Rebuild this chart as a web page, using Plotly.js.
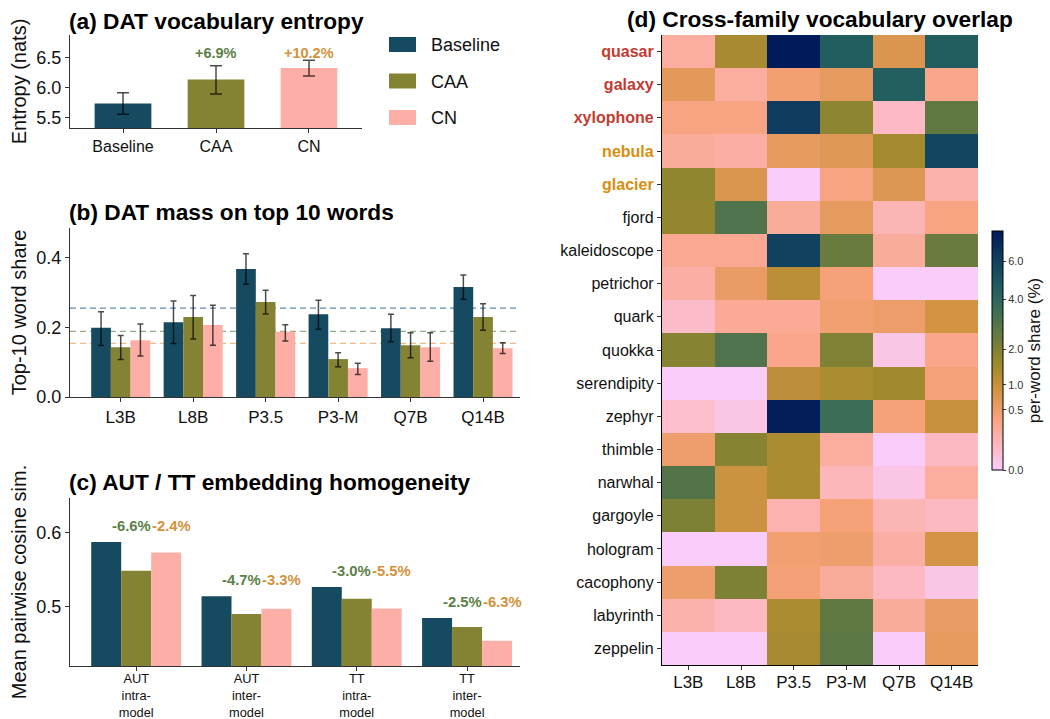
<!DOCTYPE html>
<html><head><meta charset="utf-8">
<script src="https://cdn.plot.ly/plotly-3.0.1.min.js"></script>
<style>html,body{margin:0;padding:0;background:#fff}#chart{width:1050px;height:719px}</style>
</head><body><div id="chart"></div>
<script>
// ---------- data ----------
const groups = ['Baseline', 'CAA', 'CN'];
const groupColors = ['#164A60', '#848233', '#FDAFA7'];
const deltaColors = ['#5b7f46', '#d4913b'];

// (a) DAT vocabulary entropy
const entropyMean = [5.74, 6.14, 6.33];
const entropyLow = [5.56, 5.90, 6.20];
const entropyHigh = [5.92, 6.37, 6.46];
const entropyDelta = ['', '+6.9%', '+10.2%'];

// (b) DAT mass on top 10 words
const models = ['L3B', 'L8B', 'P3.5', 'P3-M', 'Q7B', 'Q14B'];
const top10Baseline = [0.199, 0.215, 0.368, 0.238, 0.198, 0.316];
const top10BaselineLow = [0.148, 0.154, 0.324, 0.195, 0.159, 0.281];
const top10BaselineHigh = [0.245, 0.276, 0.412, 0.278, 0.238, 0.351];
const top10CAA = [0.143, 0.230, 0.273, 0.109, 0.149, 0.230];
const top10CAALow = [0.108, 0.167, 0.239, 0.087, 0.113, 0.192];
const top10CAAHigh = [0.177, 0.292, 0.307, 0.127, 0.185, 0.268];
const top10CN = [0.163, 0.207, 0.188, 0.083, 0.143, 0.140];
const top10CNLow = [0.118, 0.149, 0.161, 0.065, 0.103, 0.125];
const top10CNHigh = [0.210, 0.264, 0.208, 0.097, 0.185, 0.156];

// (c) AUT / TT embedding homogeneity
const homogCats = ['AUT<br>intra-<br>model', 'AUT<br>inter-<br>model', 'TT<br>intra-<br>model', 'TT<br>inter-<br>model'];
const homogBaseline = [0.5874, 0.5144, 0.5266, 0.4847];
const homogCAA = [0.5486, 0.4902, 0.5108, 0.4726];
const homogCN = [0.5733, 0.4974, 0.4976, 0.4542];
const homogDeltaCAA = ['-6.6%', '-4.7%', '-3.0%', '-2.5%'];
const homogDeltaCN = ['-2.4%', '-3.3%', '-5.5%', '-6.3%'];

// (d) Cross-family vocabulary overlap (per-word share, %)
const words = ['quasar', 'galaxy', 'xylophone', 'nebula', 'glacier', 'fjord', 'kaleidoscope', 'petrichor', 'quark', 'quokka',
  'serendipity', 'zephyr', 'thimble', 'narwhal', 'gargoyle', 'hologram', 'cacophony', 'labyrinth', 'zeppelin'];
const wordColors = ['#c43b32', '#c43b32', '#c43b32', '#d98e0f', '#d98e0f'];
const shareL3B = [0.2, 0.65, 0.35, 0.22, 1.75, 1.7, 0.27, 0.18, 0.06, 1.9, 0.0, 0.05, 0.5, 2.9, 2.05, 0.0, 0.5, 0.15, 0.0];
const shareL8B = [1.4, 0.2, 0.35, 0.18, 0.75, 3.0, 0.27, 0.55, 0.25, 3.0, 0.0, 0.01, 1.9, 0.95, 0.95, 0.0, 2.05, 0.08, 0.0];
const shareP35 = [7.8, 0.45, 6.3, 0.6, 0.0, 0.22, 6.0, 1.15, 0.25, 0.3, 1.1, 7.6, 1.35, 1.35, 0.14, 0.45, 0.42, 1.35, 1.4];
const shareP3M = [4.5, 0.6, 1.8, 0.7, 0.35, 0.6, 2.4, 0.4, 0.45, 2.0, 1.35, 3.5, 0.2, 0.1, 0.4, 0.5, 0.22, 2.6, 2.7];
const shareQ7B = [0.75, 4.4, 0.07, 1.45, 0.72, 0.12, 0.22, 0.0, 0.52, 0.01, 1.5, 0.4, 0.0, 0.01, 0.12, 0.18, 0.08, 0.22, 0.0];
const shareQ14B = [4.5, 0.3, 2.6, 5.8, 0.15, 0.35, 2.4, 0.0, 0.87, 0.3, 0.4, 1.0, 0.08, 0.2, 0.08, 0.85, 0.01, 0.55, 0.6];
const shareMax = 7.85;
const cbTicks = [0.0, 0.5, 1.0, 2.0, 4.0, 6.0];

// ---------- helpers ----------
const minus = (m, lo) => m.map((v, i) => v - lo[i]);
const plus = (m, hi) => hi.map((v, i) => v - m[i]);
const mean = a => a.reduce((s, v) => s + v, 0) / a.length;
const FONT = 'Liberation Sans, Arial, sans-serif';
const errStyle = (m, lo, hi, w) => ({type: 'data', symmetric: false, array: plus(m, hi), arrayminus: minus(m, lo),
  color: 'rgba(0,0,0,0.7)', thickness: 1.5, width: w});

const traces = [];
// (a)
traces.push({type: 'bar', x: groups, y: entropyMean, xaxis: 'x', yaxis: 'y', width: 0.61,
  marker: {color: groupColors}, error_y: errStyle(entropyMean, entropyLow, entropyHigh, 6), showlegend: false, hoverinfo: 'x+y'});
// (b)
const bSeries = [[top10Baseline, top10BaselineLow, top10BaselineHigh], [top10CAA, top10CAALow, top10CAAHigh], [top10CN, top10CNLow, top10CNHigh]];
bSeries.forEach((s, k) => traces.push({type: 'bar', name: groups[k], x: models, y: s[0], xaxis: 'x2', yaxis: 'y2',
  marker: {color: groupColors[k]}, error_y: errStyle(s[0], s[1], s[2], 3), showlegend: false}));
// (c)
[homogBaseline, homogCAA, homogCN].forEach((s, k) => traces.push({type: 'bar', name: groups[k], x: homogCats, y: s,
  xaxis: 'x3', yaxis: 'y3', marker: {color: groupColors[k]}, showlegend: false}));
// (d)
const cols = [shareL3B, shareL8B, shareP35, shareP3M, shareQ7B, shareQ14B];
const zSqrt = words.map((w, r) => cols.map(c => Math.sqrt(c[r])));
const zRaw = words.map((w, r) => cols.map(c => c[r]));
const batlowR = ['#FACCFA', '#FDB7BC', '#F8A17B', '#D29343', '#9D892B', '#687B3E', '#3C6D56', '#1C5A62', '#0F3D5E', '#011959'];
traces.push({type: 'heatmap', x: models, y: words, z: zSqrt, customdata: zRaw, xaxis: 'x4', yaxis: 'y4',
  zmin: 0, zmax: Math.sqrt(shareMax),
  colorscale: batlowR.map((c, i) => [i / (batlowR.length - 1), c]),
  hovertemplate: '%{y} / %{x}: %{customdata:.2f}%<extra></extra>',
  colorbar: {x: 992 / 1050, xanchor: 'left', y: 1 - 231 / 719, yanchor: 'top', len: 239, lenmode: 'pixels',
    thickness: 11, xpad: 0, ypad: 0, outlinewidth: 1, outlinecolor: '#000',
    tickvals: cbTicks.map(Math.sqrt), ticktext: cbTicks.map(v => v.toFixed(1)), ticks: 'outside', ticklen: 3,
    tickcolor: '#333', tickfont: {size: 11, color: '#333', family: FONT},
    title: {text: 'per-word share (%)', side: 'right', font: {size: 17, color: '#111', family: FONT}}}});

// ---------- layout ----------
const px = v => v / 1050, py = v => 1 - v / 719;
const baseAxis = {showgrid: false, zeroline: false, showline: true, linecolor: '#333', linewidth: 1.25,
  ticks: 'outside', ticklen: 4, tickcolor: '#333', automargin: false, tickfont: {family: FONT, color: '#111'}};
const ax = o => Object.assign({}, baseAxis, o, {tickfont: Object.assign({}, baseAxis.tickfont, o.tickfont || {})});
const ytitle = t => ({text: t, font: {size: 20, family: FONT, color: '#111'}, standoff: 4});

const annotations = [];
const titleAnn = (t, x, y, anchor) => annotations.push({text: '<b>' + t + '</b>', xref: 'paper', yref: 'paper',
  x: x, y: y, xanchor: anchor, yanchor: 'middle', showarrow: false, font: {size: 22.7, family: FONT, color: '#000'}});
titleAnn('(a) DAT vocabulary entropy', px(67), py(21), 'left');
titleAnn('(b) DAT mass on top 10 words', px(67), py(212), 'left');
titleAnn('(c) AUT / TT embedding homogeneity', px(67), py(482), 'left');
titleAnn('(d) Cross-family vocabulary overlap', px(820), py(19), 'center');

entropyDelta.forEach((t, i) => { if (t) annotations.push({text: '<b>' + t + '</b>', xref: 'x', yref: 'y', x: i, y: 6.58,
  showarrow: false, yanchor: 'middle', font: {size: 14.5, family: FONT, color: deltaColors[i - 1]}}); });
const barW = (1 - 0.185) / 3;
homogCats.forEach((c, i) => {
  const yy = homogBaseline[i] + 0.022;
  annotations.push({text: '<b>' + homogDeltaCAA[i] + '</b>', xref: 'x3', yref: 'y3', x: i + barW / 2, y: yy, xshift: 1.5,
    xanchor: 'right', yanchor: 'middle', showarrow: false, font: {size: 14.8, family: FONT, color: deltaColors[0]}});
  annotations.push({text: '<b>' + homogDeltaCN[i] + '</b>', xref: 'x3', yref: 'y3', x: i + barW / 2, y: yy, xshift: -1.5,
    xanchor: 'left', yanchor: 'middle', showarrow: false, font: {size: 14.8, family: FONT, color: deltaColors[1]}});
});

// manual legend
const shapes = [];
groups.forEach((g, k) => {
  const top = 37 + k * 36.5;
  shapes.push({type: 'rect', xref: 'paper', yref: 'paper', x0: px(389), x1: px(416), y0: py(top + 15), y1: py(top),
    fillcolor: groupColors[k], line: {width: 0}});
  annotations.push({text: g, xref: 'paper', yref: 'paper', x: px(429), y: py(top + 8), xanchor: 'left', yanchor: 'middle',
    showarrow: false, font: {size: 18, family: FONT, color: '#111'}});
});
// mean reference lines in (b)
const lineColors = ['rgba(74,120,164,0.85)', 'rgba(100,140,80,0.7)', 'rgba(235,160,85,0.7)'];
bSeries.forEach((s, k) => shapes.push({type: 'line', xref: 'x2 domain', yref: 'y2', x0: 0, x1: 1, y0: mean(s[0]), y1: mean(s[0]),
  line: {color: lineColors[k], width: 1.3, dash: '6px,4px'}, layer: 'below'}));

const wordTicks = words.map((w, i) => i < wordColors.length ? '<span style="color:' + wordColors[i] + '"><b>' + w + '</b></span>' : w);

const layout = {
  width: 1050, height: 719, margin: {l: 0, r: 0, t: 0, b: 0}, paper_bgcolor: '#fff', plot_bgcolor: 'rgba(0,0,0,0)',
  font: {family: FONT, color: '#111'}, barmode: 'group', bargap: 0.185, bargroupgap: 0, showlegend: false,
  xaxis: ax({domain: [px(70), px(362)], anchor: 'y', range: [-0.57, 2.57], tickfont: {size: 16}}),
  yaxis: ax({domain: [py(128), py(35)], anchor: 'x', range: [5.333, 6.88], tickvals: [5.5, 6.0, 6.5], tickformat: '.1f',
    tickfont: {size: 18}, title: ytitle('Entropy (nats)')}),
  xaxis2: ax({domain: [px(70), px(520)], anchor: 'y2', range: [-0.70, 5.51], tickfont: {size: 17}}),
  yaxis2: ax({domain: [py(397), py(228)], anchor: 'x2', range: [0, 0.486], tickvals: [0, 0.2, 0.4], tickformat: '.1f',
    tickfont: {size: 18}, title: ytitle('Top-10 word share')}),
  xaxis3: ax({domain: [px(70), px(520)], anchor: 'y3', range: [-0.6, 3.48], tickfont: {size: 12.8}, ticklabelstandoff: -3}),
  yaxis3: ax({domain: [py(666), py(498)], anchor: 'x3', range: [0.42, 0.647], tickvals: [0.5, 0.6], tickformat: '.1f',
    tickfont: {size: 18}, title: ytitle('Mean pairwise cosine sim.')}),
  xaxis4: ax({domain: [px(662), px(978)], anchor: 'y4', linecolor: '#000', tickfont: {size: 17}, ticklabelstandoff: -3}),
  yaxis4: ax({domain: [py(665), py(35)], anchor: 'x4', autorange: 'reversed', linecolor: '#000',
    tickvals: words, ticktext: wordTicks, tickfont: {size: 16}}),
  annotations: annotations, shapes: shapes
};

Plotly.newPlot('chart', traces, layout, {displayModeBar: false, responsive: false});
</script></body></html>
